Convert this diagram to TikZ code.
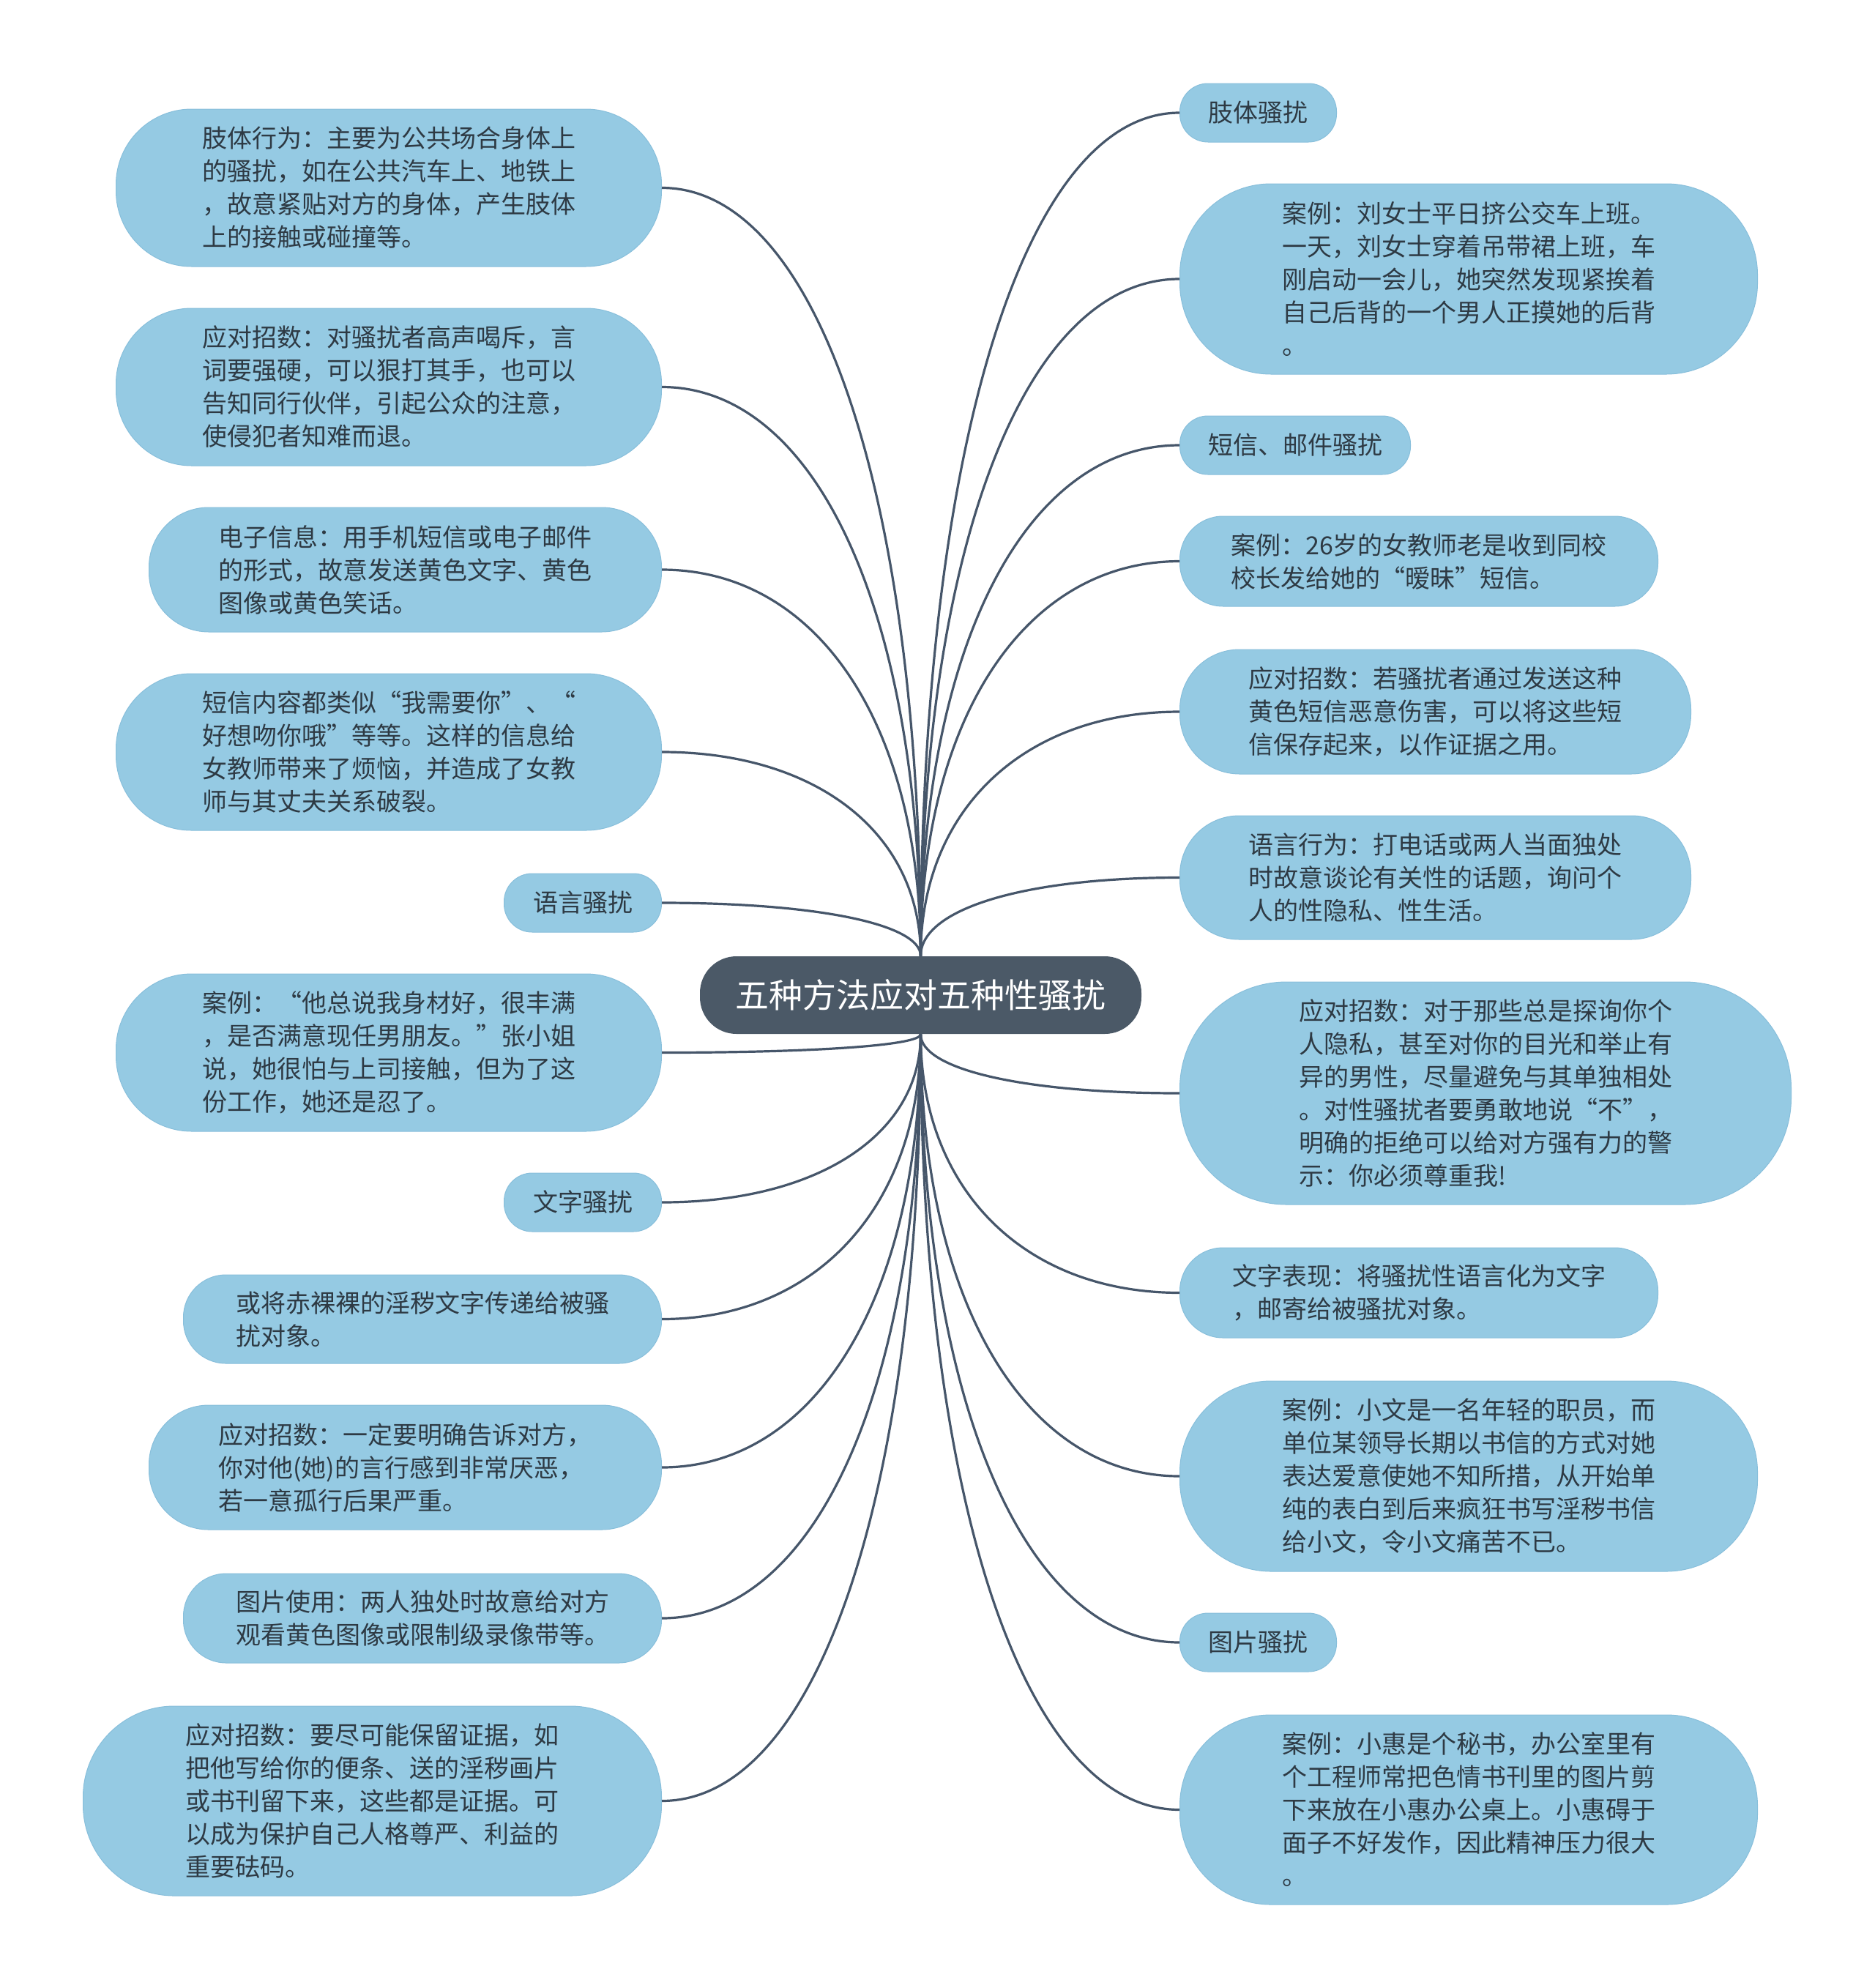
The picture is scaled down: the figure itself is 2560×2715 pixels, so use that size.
\documentclass[tikz,border=0pt]{standalone}
\usepackage{fontspec}
\setmainfont{Noto Sans CJK SC}
\usetikzlibrary{calc}
\definecolor{leafblue}{HTML}{95CAE3}
\definecolor{leafrim}{HTML}{88BFDB}
\definecolor{rootslate}{HTML}{4B5967}
\definecolor{linkslate}{HTML}{46566A}
\definecolor{ink}{HTML}{2E3A44}

\begin{document}
\begin{tikzpicture}[x=0.5pt, y=0.5pt, font=\fontsize{17pt}{22.5pt}\selectfont,
  leaf/.style 2 args={draw=leafrim, line width=0.5pt, fill=leafblue, text=ink, align=left,
    inner sep=0pt, minimum width=#1, minimum height=#2, rounded corners=0.48*#2},
  root/.style={fill=rootslate, text=white, inner sep=0pt, minimum width=301.5pt, minimum height=53pt,
    rounded corners=25pt, font=\fontsize{23pt}{28pt}\selectfont},
  link/.style={draw=linkslate, line width=1.6pt,
    to path={.. controls ($(\tikztostart)!0.6!(\tikztostart |- \tikztotarget)$)
      and ($(\tikztotarget)!0.6!(\tikztostart |- \tikztotarget)$) .. (\tikztotarget)}}]
\path[fill=white] (0,0) rectangle (2560,-2715);

\node[root] (root) at (1257.5,-1359) {五种方法应对五种性骚扰};

% left branches
\node[leaf={372.5pt}{107.5pt}, anchor=east] (bodyact) at (904,-256.5) {肢体行为：主要为公共场合身体上\\的骚扰，如在公共汽车上、地铁上\\，故意紧贴对方的身体，产生肢体\\上的接触或碰撞等。};
\node[leaf={372.5pt}{107.5pt}, anchor=east] (bodyreply) at (904,-528.5) {应对招数：对骚扰者高声喝斥，言\\词要强硬，可以狠打其手，也可以\\告知同行伙伴，引起公众的注意，\\使侵犯者知难而退。};
\node[leaf={350pt}{85pt}, anchor=east] (email) at (904,-778) {电子信息：用手机短信或电子邮件\\的形式，故意发送黄色文字、黄色\\图像或黄色笑话。};
\node[leaf={372.5pt}{107pt}, anchor=east] (smstext) at (904,-1027) {短信内容都类似“我需要你”、“\\好想吻你哦”等等。这样的信息给\\女教师带来了烦恼，并造成了女教\\师与其丈夫关系破裂。};
\node[leaf={107.5pt}{40pt}, anchor=east] (verbalh) at (904,-1233) {语言骚扰};
\node[leaf={372.5pt}{107.5pt}, anchor=east] (verbalcase) at (904,-1437.5) {案例：“他总说我身材好，很丰满\\，是否满意现任男朋友。”张小姐\\说，她很怕与上司接触，但为了这\\份工作，她还是忍了。};
\node[leaf={107.5pt}{40pt}, anchor=east] (texth) at (904,-1642) {文字骚扰};
\node[leaf={326.5pt}{60.5pt}, anchor=east] (textsend) at (904,-1801.5) {或将赤裸裸的淫秽文字传递给被骚\\扰对象。};
\node[leaf={350pt}{85pt}, anchor=east] (textreply) at (904,-2004) {应对招数：一定要明确告诉对方，\\你对他(她)的言行感到非常厌恶，\\若一意孤行后果严重。};
\node[leaf={326.5pt}{61pt}, anchor=east] (picuse) at (904,-2210) {图片使用：两人独处时故意给对方\\观看黄色图像或限制级录像带等。};
\node[leaf={395pt}{129.5pt}, anchor=east] (picreply) at (904,-2459.5) {应对招数：要尽可能保留证据，如\\把他写给你的便条、送的淫秽画片\\或书刊留下来，这些都是证据。可\\以成为保护自己人格尊严、利益的\\重要砝码。};

% right branches
\node[leaf={107pt}{40pt}, anchor=west] (bodyh) at (1611,-154) {肢体骚扰};
\node[leaf={394.5pt}{130pt}, anchor=west] (bodycase) at (1611,-381) {案例：刘女士平日挤公交车上班。\\一天，刘女士穿着吊带裙上班，车\\刚启动一会儿，她突然发现紧挨着\\自己后背的一个男人正摸她的后背\\。};
\node[leaf={157.5pt}{40pt}, anchor=west] (smsh) at (1611,-608) {短信、邮件骚扰};
\node[leaf={326.5pt}{61.5pt}, anchor=west] (smscase) at (1611,-766.5) {案例：26岁的女教师老是收到同校\\校长发给她的“暧昧”短信。};
\node[leaf={349pt}{85pt}, anchor=west] (smsreply) at (1611,-972) {应对招数：若骚扰者通过发送这种\\黄色短信恶意伤害，可以将这些短\\信保存起来，以作证据之用。};
\node[leaf={349pt}{84.5pt}, anchor=west] (verbalact) at (1611,-1198.5) {语言行为：打电话或两人当面独处\\时故意谈论有关性的话题，询问个\\人的性隐私、性生活。};
\node[leaf={417.5pt}{152pt}, anchor=west] (verbalreply) at (1611,-1493) {应对招数：对于那些总是探询你个\\人隐私，甚至对你的目光和举止有\\异的男性，尽量避免与其单独相处\\。对性骚扰者要勇敢地说“不”，\\明确的拒绝可以给对方强有力的警\\示：你必须尊重我!};
\node[leaf={326.5pt}{61.5pt}, anchor=west] (textshow) at (1611,-1765.5) {文字表现：将骚扰性语言化为文字\\，邮寄给被骚扰对象。};
\node[leaf={394.5pt}{130pt}, anchor=west] (textcase) at (1611,-2016) {案例：小文是一名年轻的职员，而\\单位某领导长期以书信的方式对她\\表达爱意使她不知所措，从开始单\\纯的表白到后来疯狂书写淫秽书信\\给小文，令小文痛苦不已。};
\node[leaf={107pt}{40pt}, anchor=west] (pich) at (1611,-2243) {图片骚扰};
\node[leaf={394.5pt}{129.5pt}, anchor=west] (piccase) at (1611,-2471.5) {案例：小惠是个秘书，办公室里有\\个工程师常把色情书刊里的图片剪\\下来放在小惠办公桌上。小惠碍于\\面子不好发作，因此精神压力很大\\。};

% links, upper half from the top of the root
\draw[link] (root.north) to (bodyact.east);
\draw[link] (root.north) to (bodyreply.east);
\draw[link] (root.north) to (email.east);
\draw[link] (root.north) to (smstext.east);
\draw[link] (root.north) to (verbalh.east);
\draw[link] (root.north) to (bodyh.west);
\draw[link] (root.north) to (bodycase.west);
\draw[link] (root.north) to (smsh.west);
\draw[link] (root.north) to (smscase.west);
\draw[link] (root.north) to (smsreply.west);
\draw[link] (root.north) to (verbalact.west);
% lower half from the bottom
\draw[link] (root.south) to (verbalcase.east);
\draw[link] (root.south) to (texth.east);
\draw[link] (root.south) to (textsend.east);
\draw[link] (root.south) to (textreply.east);
\draw[link] (root.south) to (picuse.east);
\draw[link] (root.south) to (picreply.east);
\draw[link] (root.south) to (verbalreply.west);
\draw[link] (root.south) to (textshow.west);
\draw[link] (root.south) to (textcase.west);
\draw[link] (root.south) to (pich.west);
\draw[link] (root.south) to (piccase.west);
\end{tikzpicture}
\end{document}
